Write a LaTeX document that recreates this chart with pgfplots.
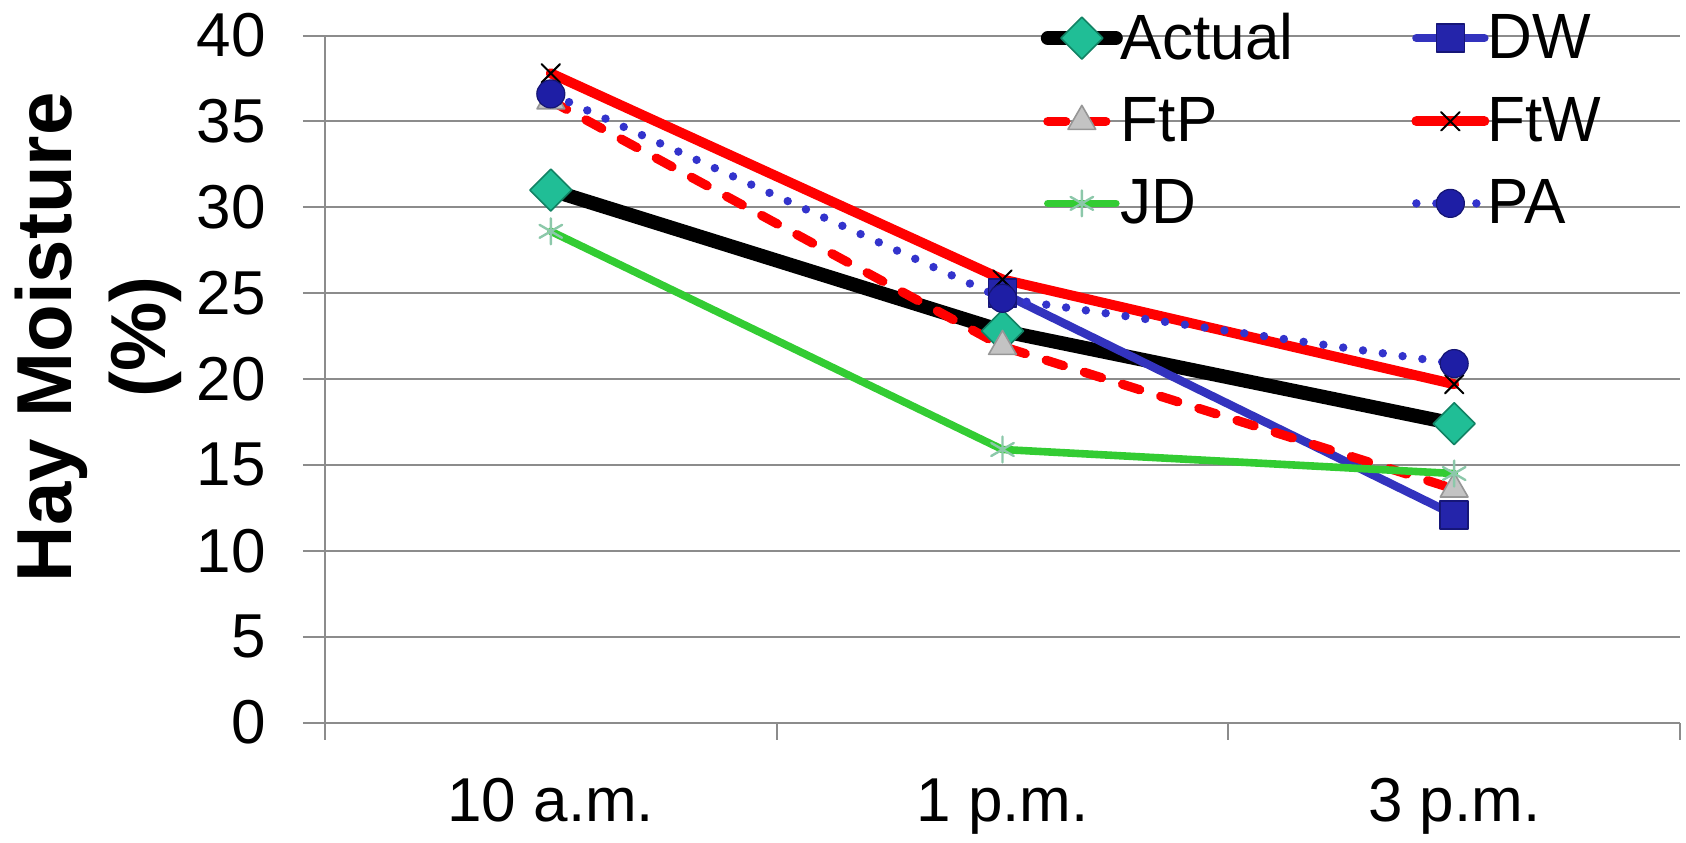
\documentclass[border=0pt]{standalone}
\usepackage{fontspec}
\setmainfont{Liberation Sans}
\newfontfamily\legfont{Liberation Sans}[FakeStretch=0.97]
\usepackage{pgfplots}
\pgfplotsset{compat=1.18}
\definecolor{gridgray}{RGB}{140,140,140}
\definecolor{actfill}{RGB}{32,190,150}
\definecolor{actdraw}{RGB}{18,130,100}
\definecolor{dwline}{RGB}{51,51,190}
\definecolor{dwfill}{RGB}{36,36,170}
\definecolor{dwdraw}{RGB}{22,22,120}
\definecolor{trifill}{RGB}{195,195,195}
\definecolor{tridraw}{RGB}{150,150,150}
\definecolor{jdline}{RGB}{51,204,51}
\definecolor{jdmark}{RGB}{140,200,170}
\definecolor{paline}{RGB}{51,51,204}
\definecolor{pafill}{RGB}{30,30,165}
\begin{document}
\begin{tikzpicture}
\begin{axis}[
  scale only axis, width=677.5pt, height=343.55pt,
  xmin=0.5, xmax=3.5, ymin=0, ymax=40,
  axis x line=bottom, axis y line=left,
  axis line style={-, draw=gridgray, line width=1pt},
  ytick={0,5,...,40},
  xtick={1,2,3}, xticklabels={10 a.m., 1 p.m., 3 p.m.},
  minor xtick={0.5,1.5,2.5,3.5},
  ymajorgrids, grid style={gridgray, line width=1pt},
  tick align=outside,
  major tick length=11pt, minor tick length=8.6pt,
  major x tick style={draw=none},
  minor x tick style={gridgray, line width=1pt},
  major y tick style={gridgray, line width=1pt},
  /pgf/number format/assume math mode=true,
  yticklabel style={font=\fontsize{31}{37}\selectfont, xshift=-15pt},
  xticklabel style={font=\fontsize{31}{37}\selectfont, yshift=-13.5pt},
  ylabel={Hay Moisture\\(\%)},
  ylabel style={align=center, font=\bfseries\fontsize{39}{47}\selectfont, at={(axis description cs:-0.1675,0.561)}, anchor=center},
  legend columns=2,
  legend cell align=left,
  legend style={draw=none, fill=none, at={(axis description cs:0.528,1.0385)}, anchor=north west,
    font=\legfont\fontsize{32}{38}\selectfont,
    nodes={inner xsep=3pt},
    /tikz/every odd column/.append style={column sep=-4pt},
    /tikz/every even column/.append style={column sep=56pt}, row sep=13.5pt, inner sep=0pt},
  legend image code/.code={\draw[mark repeat=2,mark phase=2,#1] plot coordinates {(0pt,0pt) (17pt,0pt) (34pt,0pt)};},
  every axis plot/.append style={line cap=round, line join=round},
]
\addplot[black, line width=7pt, mark=square*, mark size=7.4pt,
  mark options={solid, rotate=45, line width=0.8pt, fill=actfill, draw=actdraw}]
  coordinates {(1,31.0) (2,22.8) (3,17.4)};
\addlegendentry{Actual}
\addplot[dwline, line width=4.2pt, mark=square*, mark size=7pt,
  mark options={solid, line width=0.8pt, fill=dwfill, draw=dwdraw}]
  coordinates {(2,25.0) (3,12.1)};
\addlegendentry{DW}
\addplot[red, line width=4.6pt, dash pattern=on 9pt off 11pt, mark=triangle*, mark size=8pt,
  mark options={solid, line width=0.8pt, fill=trifill, draw=tridraw}]
  coordinates {(1,36.2) (2,21.9) (3,13.6)};
\addlegendentry{FtP}
\addplot[red, line width=5pt, mark=x, mark size=6.5pt,
  mark options={solid, line width=1pt, draw=black}]
  coordinates {(1,37.8) (2,25.8) (3,19.7)};
\addlegendentry{FtW}
\addplot[jdline, line width=3.8pt, mark=asterisk, mark size=6.5pt,
  mark options={solid, line width=1.2pt, draw=jdmark}]
  coordinates {(1,28.6) (2,15.9) (3,14.5)};
\addlegendentry{JD}
\addplot[paline, line width=4.2pt, dash pattern=on 0pt off 10pt, mark=*, mark size=7pt,
  mark options={solid, line width=0.6pt, fill=pafill, draw=pafill!70!black}]
  coordinates {(1,36.6) (2,24.7) (3,20.9)};
\addlegendentry{PA}
\end{axis}
\pgfresetboundingbox
\path[use as bounding box] (-162.5pt,-59.7pt) rectangle (680.5pt,361.3pt);
\end{tikzpicture}
\end{document}
